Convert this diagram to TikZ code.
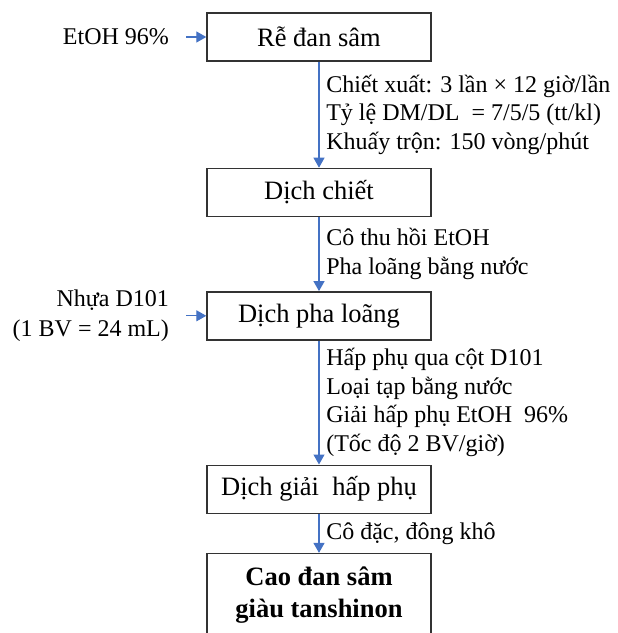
\documentclass[tikz,border=0pt]{standalone}
\usepackage{fontspec}
\setmainfont{Liberation Serif}
\usetikzlibrary{positioning,arrows.meta}
\definecolor{arrowblue}{HTML}{4472C4}

\begin{document}
\begin{tikzpicture}[
			x=1pt,y=1pt,
			font=\fontsize{12}{14.25}\selectfont,
			stage/.style={draw=black!80,line width=0.7pt,rectangle,minimum width=112pt,minimum height=24pt,
				font=\fontsize{13.25}{16}\selectfont},
			flow/.style={draw=arrowblue,line width=0.6pt,-{Triangle[length=5pt,width=5.5pt]}},
			note/.style={right,align=left}]
			\useasboundingbox (0,0) rectangle (308.5,-316.5);
			% main chain
			\node (root) [stage] at (159.5,-18.5) {Rễ đan sâm};
			\node (extract) [stage,below=53pt of root] {Dịch chiết};
			\node (dilute) [stage,below=37pt of extract] {Dịch pha loãng};
			\node (eluate) [stage,below=62pt of dilute] {Dịch giải\ \ hấp phụ};
			\node (product) [stage,below=19.5pt of eluate,minimum height=41pt,align=center,
				font=\fontsize{13.25}{16}\selectfont\bfseries] {Cao đan sâm\\giàu tanshinon};
			% inputs
			\node (etoh) [left=10pt of root,inner xsep=8.5pt] {EtOH 96\%};
			\node (resin) [left=10pt of dilute,inner xsep=8.5pt,align=right,
				font=\fontsize{12}{15}\selectfont] {Nhựa D101\\(1 BV = 24 mL)};
			\draw [flow] (etoh) -- (root);
			\draw [flow] (resin) -- (dilute);
			% steps
			\draw [flow] (root) -- node [note] {Chiết xuất: 3 lần × 12 giờ/lần\\
				Tỷ lệ DM/DL \ = 7/5/5 (tt/kl)\\
				Khuấy trộn: 150 vòng/phút} (extract);
			\draw [flow] (extract) -- node [note] {Cô thu hồi EtOH\\
				Pha loãng bằng nước} (dilute);
			\draw [flow] (dilute) -- node [note] {Hấp phụ qua cột D101\\
				Loại tạp bằng nước\\
				Giải hấp phụ EtOH \ 96\%\\
				(Tốc độ 2 BV/giờ)} (eluate);
			\draw [flow] (eluate) -- node [note] {Cô đặc, đông khô} (product);
		\end{tikzpicture}
\end{document}
